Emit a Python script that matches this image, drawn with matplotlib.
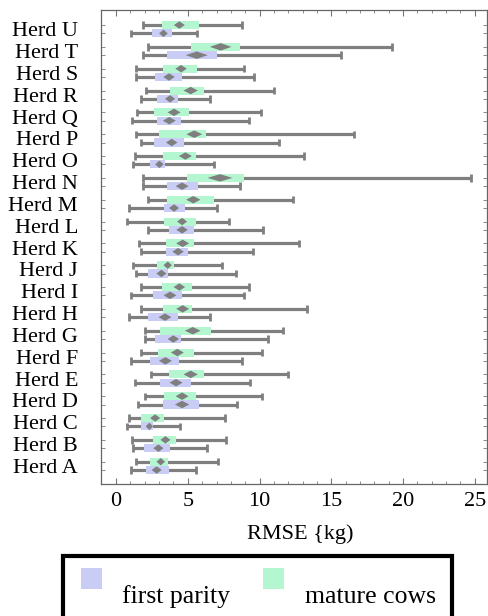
import matplotlib
matplotlib.use("Agg")
import matplotlib.pyplot as plt
import matplotlib.patches as mpatches
import numpy as np

plt.rcParams["font.family"] = ["Liberation Serif", "DejaVu Serif"]
plt.rcParams["font.size"] = 16

# Herds from bottom (A) to top (U)
herds = ["Herd " + c for c in "ABCDEFGHIJKLMNOPQRSTU"]

# mature cows: whisker low, q1, mean, q3, whisker high
mat_lo = [1.37, 1.11, 0.93, 2.02, 2.41, 1.72, 2.02, 1.72, 1.72, 1.21, 1.62,
          0.79, 2.20, 1.90, 1.32, 1.37, 1.49, 2.09, 1.39, 2.25, 1.90]
mat_q1 = [2.37, 2.55, 1.76, 3.37, 3.67, 2.95, 3.06, 3.30, 3.20, 2.88, 3.51,
          3.37, 3.53, 4.92, 3.30, 3.02, 2.67, 3.76, 3.25, 5.20, 3.23]
mat_mean = [3.11, 3.44, 2.72, 4.60, 5.20, 4.27, 5.34, 4.64, 4.41, 3.60, 4.64,
            4.60, 5.38, 7.24, 4.83, 5.45, 4.04, 5.20, 4.53, 7.29, 4.41]
mat_q3 = [3.64, 4.16, 3.32, 5.55, 6.13, 5.43, 6.59, 5.29, 5.29, 4.04, 5.43,
          5.60, 6.80, 8.91, 5.55, 6.27, 5.11, 6.13, 5.62, 8.64, 5.80]
mat_hi = [7.12, 7.66, 7.57, 10.14, 11.95, 10.14, 11.61, 13.32, 9.24, 7.36, 12.74,
          7.89, 12.30, 24.72, 13.09, 16.60, 10.07, 11.03, 8.91, 19.22, 8.75]
mat_ci = [0.30, 0.35, 0.35, 0.45, 0.50, 0.45, 0.55, 0.45, 0.40, 0.30, 0.45,
          0.35, 0.50, 0.87, 0.45, 0.55, 0.45, 0.50, 0.40, 0.75, 0.38]

# first parity
fp_lo = [1.02, 1.21, 0.74, 1.51, 1.32, 1.02, 2.02, 0.93, 1.02, 1.41, 1.72,
         2.20, 0.93, 1.90, 1.21, 1.72, 1.11, 1.72, 1.39, 1.90, 1.04]
fp_q1 = [2.07, 1.95, 1.76, 3.25, 3.06, 2.37, 2.74, 2.25, 2.55, 2.25, 3.46,
         3.67, 3.34, 3.53, 2.37, 2.65, 2.83, 2.88, 2.72, 3.53, 2.48]
fp_mean = [2.83, 2.95, 2.32, 4.60, 4.18, 3.44, 3.99, 3.41, 3.76, 3.16, 4.32,
           4.60, 4.04, 4.60, 3.02, 3.88, 3.71, 3.76, 3.69, 5.62, 3.30]
fp_q3 = [3.67, 3.74, 2.60, 5.76, 5.20, 4.41, 4.53, 4.32, 4.60, 3.64, 5.01,
         5.41, 4.83, 5.73, 3.44, 4.71, 4.53, 4.29, 4.60, 7.01, 3.92]
fp_hi = [5.57, 6.34, 4.46, 8.40, 9.33, 8.75, 10.56, 6.55, 8.91, 8.38, 9.56,
         10.21, 7.06, 8.66, 6.82, 11.37, 9.26, 6.55, 9.63, 15.69, 5.66]
fp_ci = [0.35, 0.35, 0.25, 0.50, 0.45, 0.45, 0.40, 0.45, 0.45, 0.35, 0.40,
         0.40, 0.35, 0.45, 0.30, 0.40, 0.45, 0.35, 0.40, 0.77, 0.30]

COL_FP = "#C9CCF5"
COL_MAT = "#B4F6CF"
GRAY = "#7F7F7F"
OFFSET = 0.19
BOX_H = 0.37
CAP = 0.17
DIA_H = 0.17


def draw_series(ax, y, lo, q1, mean, q3, hi, ci, color):
    ax.hlines(y, lo, hi, color=GRAY, linewidth=2.3, zorder=2)
    ax.vlines(lo, y - CAP, y + CAP, color=GRAY, linewidth=2.0, zorder=2)
    ax.vlines(hi, y - CAP, y + CAP, color=GRAY, linewidth=2.0, zorder=2)
    ax.barh(y, np.array(q3) - np.array(q1), left=q1, height=BOX_H,
            color=color, edgecolor="none", zorder=3)
    for yi, m, c in zip(y, mean, ci):
        dia = mpatches.Polygon([[m - c, yi], [m, yi + DIA_H], [m + c, yi], [m, yi - DIA_H]],
                               closed=True, facecolor=GRAY, edgecolor="none", zorder=4)
        ax.add_patch(dia)


fig = plt.figure(figsize=(4.88, 6.16), dpi=100)
ax = fig.add_axes([0.207, 0.2143, 0.791, 0.7695])

pos = np.arange(len(herds))
draw_series(ax, pos + OFFSET, mat_lo, mat_q1, mat_mean, mat_q3, mat_hi, mat_ci, COL_MAT)
draw_series(ax, pos - OFFSET, fp_lo, fp_q1, fp_mean, fp_q3, fp_hi, fp_ci, COL_FP)

ax.set_xlim(-1.05, 25.85)
ax.set_ylim(-0.83, 20.88)

ax.set_xticks(np.arange(0, 26, 5))
ax.set_xticks(np.arange(0, 26, 1), minor=True)
ax.set_yticks(pos)
ax.set_yticklabels(herds)
ax.set_yticks(np.concatenate([pos - OFFSET, pos + OFFSET]), minor=True)

ax.tick_params(axis="x", which="major", direction="in", length=4, width=0.8,
               color="#777777", top=True, pad=6)
ax.tick_params(axis="x", which="minor", direction="in", length=2.5, width=0.6,
               color="#777777", top=True)
ax.tick_params(axis="y", which="major", length=0, pad=16.5)
ax.tick_params(axis="y", which="minor", direction="in", length=3, width=0.6,
               color="#777777", right=True)

for spine in ax.spines.values():
    spine.set_edgecolor("#666666")
    spine.set_linewidth(0.9)

ax.set_xlabel("RMSE {kg)")
ax.xaxis.set_label_coords(0.516, -0.085)

# Legend box drawn in figure coordinates
frame = mpatches.Rectangle((0.129, -0.05), 0.797, 0.1474, transform=fig.transFigure,
                           facecolor="white", edgecolor="black", linewidth=3.0,
                           clip_on=False)
fig.patches.append(frame)
fig.patches.append(mpatches.Rectangle((81 / 488, 1 - 589 / 616), 21 / 488, 21 / 616,
                                      transform=fig.transFigure, facecolor=COL_FP,
                                      edgecolor="none"))
fig.patches.append(mpatches.Rectangle((263 / 488, 1 - 589 / 616), 21 / 488, 21 / 616,
                                      transform=fig.transFigure, facecolor=COL_MAT,
                                      edgecolor="none"))
fig.text(122 / 488, 1 - 603 / 616, "first parity", ha="left", va="baseline", fontsize=18.5)
fig.text(305 / 488, 1 - 603 / 616, "mature cows", ha="left", va="baseline", fontsize=18.5)

fig.savefig("out.png", dpi=100, facecolor="white")
plt.close(fig)
